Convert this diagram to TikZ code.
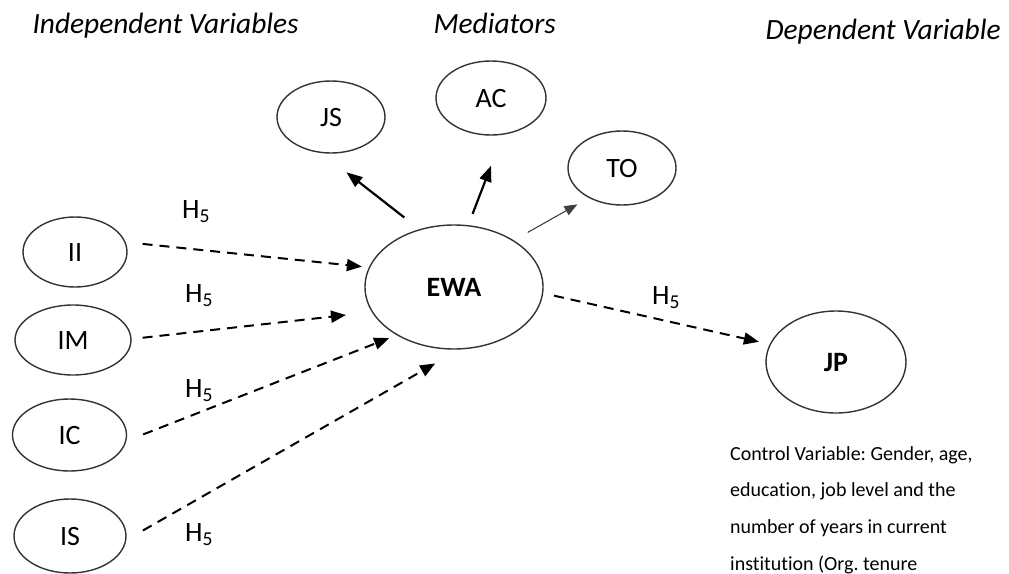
\documentclass[tikz,border=0pt]{standalone}
\usepackage{fontspec}
\setmainfont{Carlito}[Ligatures=NoCommon]
\usetikzlibrary{positioning,arrows.meta,shapes.geometric}
\frenchspacing

\begin{document}
\begin{tikzpicture}[
    x=1pt,y=-1pt,
    var/.style={draw=black!80,line width=1.4pt,ellipse,inner sep=0pt,text height=18pt,text depth=0pt,font=\fontsize{28}{32}\selectfont},
    head/.style={anchor=base west,font=\fontsize{29.4}{34}\selectfont\itshape},
    hyp/.style={font=\fontsize{28}{32}\selectfont},
    path/.style={line width=2pt,dash pattern=on 10pt off 7pt,-{Triangle[length=15pt,width=12pt]}},
    link/.style={line width=2.2pt,-{Triangle[length=16pt,width=12pt]}}
  ]
    \useasboundingbox (0,0) rectangle (1009,573);
    % headings
    \node[head] (indep) at (29,33) {Independent Variables};
    \node[head] (med) at (430,33) {Mediators};
    \node[head] (dep) at (762,39) {Dependent Variable};
    % variables
    \node[var,minimum width=104pt,minimum height=70pt] (ii) at (75,252) {II};
    \node[var,minimum width=116pt,minimum height=70pt] (im) at (73,340) {IM};
    \node[var,minimum width=114pt,minimum height=72pt] (ic) at (69.5,435) {IC};
    \node[var,minimum width=112pt,minimum height=74pt] (is) at (70,536) {IS};
    \node[var,minimum width=178pt,minimum height=124pt] (ewa) at (454,287) {\bfseries EWA};
    \node[var,minimum width=140pt,minimum height=102pt] (jp) at (836,362) {\bfseries JP};
    \node[var,minimum width=108pt,minimum height=72pt] (js) at (331,117) {JS};
    \node[var,minimum width=110pt,minimum height=74pt] (ac) at (491,98) {AC};
    \node[var,minimum width=108pt,minimum height=74pt] (to) at (622,168) {TO};
    % mediators
    \draw[link,shorten <=19pt,shorten >=31pt] (ewa.121) -- (js.256);
    \draw[link,shorten <=12pt,shorten >=33pt] (ewa.77) -- (ac.288);
    \draw[line width=1.1pt,black!75,-{Triangle[length=13pt,width=10pt]},shorten <=16pt,shorten >=13pt] (ewa.38) -- (to.222);
    % hypotheses
    \draw[path,shorten <=17pt,shorten >=7pt] (ii.11) -- (ewa.167);
    \draw[path,shorten <=11pt,shorten >=26pt] (im.1) -- (ewa.197);
    \draw[path,shorten <=18pt,shorten >=8pt] (ic.354) -- (ewa.220);
    \draw[path,shorten <=19pt,shorten >=28pt] (is.356) -- (ewa.275);
    \draw[path,shorten <=11pt,shorten >=11pt] (ewa.356) -- (jp.165);
    \node[hyp] (h1) at (196,212) {H\textsubscript{5}};
    \node[hyp] (h2) at (199,296) {H\textsubscript{5}};
    \node[hyp] (h3) at (199,391) {H\textsubscript{5}};
    \node[hyp] (h4) at (199,535) {H\textsubscript{5}};
    \node[hyp] (h5) at (666,298) {H\textsubscript{5}};
    % control
    \node[anchor=north west,inner sep=0pt,align=left,font=\fontsize{20}{36.7}\selectfont] (ctrl) at (730,446)
      {Control Variable: Gender, age,\\education, job level and the\\number of years in current\\institution (Org. tenure};
  \end{tikzpicture}
\end{document}
